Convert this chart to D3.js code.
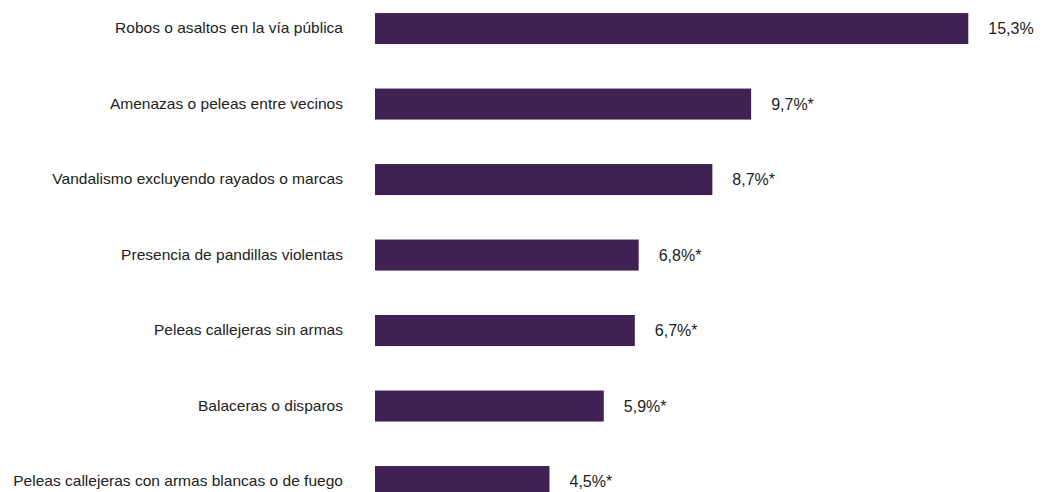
<!DOCTYPE html>
<html lang="es">
<head>
<meta charset="utf-8">
<title>Incidentes</title>
<script src="https://d3js.org/d3.v7.min.js"></script>
<style>
  body { margin: 0; background: #fff; }
  text { font-family: "Liberation Sans", Arial, sans-serif; fill: #222; }
</style>
</head>
<body>
<script>
var categorias = [
  "Robos o asaltos en la vía pública",
  "Amenazas o peleas entre vecinos",
  "Vandalismo excluyendo rayados o marcas",
  "Presencia de pandillas violentas",
  "Peleas callejeras sin armas",
  "Balaceras o disparos",
  "Peleas callejeras con armas blancas o de fuego"
];
var valores = [15.3, 9.7, 8.7, 6.8, 6.7, 5.9, 4.5];
var etiquetas = ["15,3%", "9,7%*", "8,7%*", "6,8%*", "6,7%*", "5,9%*", "4,5%*"];

var w = 1043, h = 492;
var x0 = 375;

var svg = d3.select("body").append("svg")
  .attr("width", w).attr("height", h);

var x = d3.scaleLinear().domain([0, 15.3]).range([x0, 968.3]);
var y = d3.scaleBand().domain(categorias)
  .range([-9.6, 519.7]).paddingInner(0.589).paddingOuter(0.3);

var filas = svg.selectAll("g.fila")
  .data(categorias)
  .enter().append("g").attr("class", "fila");

filas.append("rect")
  .attr("x", x(0))
  .attr("y", function (d) { return y(d); })
  .attr("width", function (d, i) { return x(valores[i]) - x(0); })
  .attr("height", y.bandwidth())
  .attr("fill", "#402153");

// category labels: the source text is drawn a bit stretched horizontally
filas.append("text")
  .attr("transform", function (d) {
    return "translate(343," + (y(d) + y.bandwidth() / 2) + ") scale(1.11,1)";
  })
  .attr("dy", "0.35em")
  .attr("text-anchor", "end")
  .style("font-size", "14px")
  .text(function (d) { return d; });

filas.append("text")
  .attr("x", function (d, i) { return x(valores[i]) + 20; })
  .attr("y", function (d) { return y(d) + y.bandwidth() / 2; })
  .attr("dy", "0.36em")
  .style("font-size", "16px")
  .text(function (d, i) { return etiquetas[i]; });
</script>
</body>
</html>
